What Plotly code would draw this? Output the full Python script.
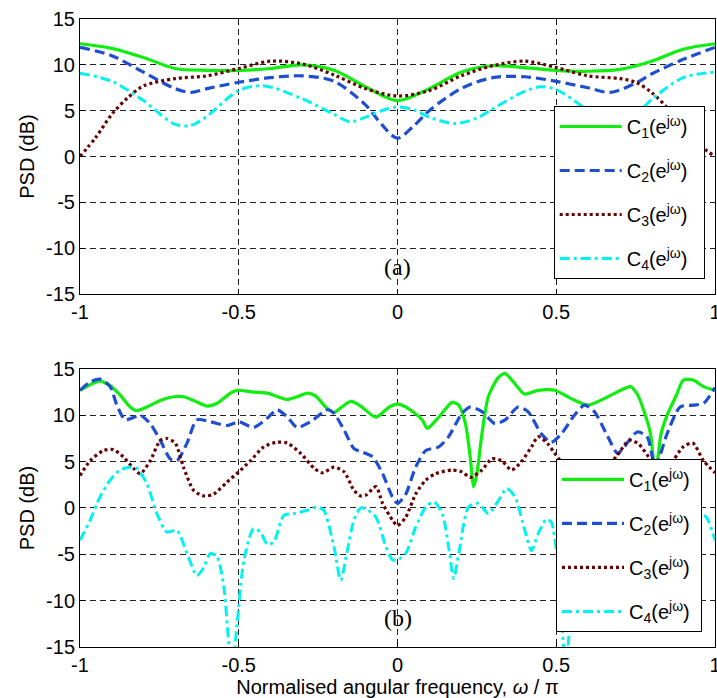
import plotly.graph_objects as go

# ---------------- data: panel (a) ----------------
a_c1_x = [-1, -0.9, -0.8, -0.7, -0.6, -0.5, -0.4, -0.3, -0.2, -0.1, 0, 0.1, 0.2, 0.3, 0.4, 0.5, 0.6, 0.7, 0.8, 0.9, 1.0]
a_c1_y = [12.3, 11.8, 10.8, 9.6, 9.4, 9.4, 9.6, 10.0, 9.4, 7.6, 6.1, 7.4, 9.2, 9.9, 9.7, 9.4, 9.3, 9.5, 10.4, 11.7, 12.3]

a_c2_x = [-1, -0.9, -0.8, -0.7, -0.65, -0.6, -0.5, -0.4, -0.3, -0.2, -0.1, -0.05, 0, 0.05, 0.1, 0.2, 0.3, 0.4, 0.5, 0.6, 0.67, 0.75, 0.8, 0.9, 1.0]
a_c2_y = [11.9, 11.0, 9.2, 7.4, 7.0, 7.4, 8.1, 8.6, 8.8, 8.2, 5.6, 3.5, 2.0, 3.3, 5.0, 7.4, 8.6, 8.7, 8.2, 7.5, 7.0, 8.0, 9.0, 10.6, 11.9]

a_c3_x = [-1, -0.95, -0.9, -0.85, -0.8, -0.7, -0.6, -0.5, -0.4, -0.3, -0.2, -0.1, 0, 0.1, 0.2, 0.3, 0.4, 0.5, 0.6, 0.7, 0.75, 0.8, 0.85, 0.9, 0.95, 1.0]
a_c3_y = [0.0, 2.1, 4.6, 6.4, 7.7, 8.5, 8.8, 9.6, 10.4, 10.1, 8.9, 7.4, 6.6, 7.2, 8.8, 9.9, 10.4, 9.7, 8.8, 8.5, 8.1, 7.0, 5.3, 3.3, 1.3, 0.0]

a_c4_x = [-1, -0.9, -0.8, -0.75, -0.7, -0.65, -0.6, -0.5, -0.42, -0.3, -0.2, -0.15, -0.1, -0.05, 0, 0.05, 0.1, 0.18, 0.25, 0.3, 0.4, 0.45, 0.5, 0.6, 0.65, 0.7, 0.75, 0.8, 0.9, 1.0]
a_c4_y = [9.1, 8.2, 6.1, 4.7, 3.5, 3.4, 4.4, 7.2, 7.7, 6.3, 4.6, 3.8, 4.3, 5.0, 5.4, 5.1, 4.3, 3.6, 4.2, 5.2, 7.1, 7.6, 7.3, 5.0, 3.7, 3.4, 4.5, 6.2, 8.6, 9.2]

# ---------------- data: panel (b) ----------------
b_c1_x = [-1, -0.968, -0.937, -0.905, -0.874, -0.842, -0.821, -0.789, -0.747, -0.705, -0.674, -0.642, -0.6, -0.568,
          -0.526, -0.505, -0.453, -0.41, -0.368, -0.347, -0.316, -0.284, -0.258, -0.226, -0.2, -0.179, -0.147, -0.116,
          -0.068, -0.026, 0, 0.036, 0.078, 0.094, 0.13, 0.172, 0.193, 0.214, 0.229, 0.24, 0.25, 0.266, 0.286, 0.318,
          0.339, 0.37, 0.4, 0.443, 0.495, 0.547, 0.6, 0.651, 0.703, 0.734, 0.755, 0.776, 0.797, 0.812, 0.83, 0.849,
          0.88, 0.9, 0.932, 0.964, 1.0]
b_c1_y = [12.7, 13.3, 13.7, 13.2, 12.2, 10.9, 10.5, 10.9, 11.6, 12.0, 12.0, 11.6, 11.0, 11.3,
          12.4, 12.7, 12.5, 12.4, 11.9, 11.7, 12.0, 12.4, 12.1, 10.9, 10.3, 10.8, 11.5, 11.0,
          9.8, 10.9, 11.2, 10.7, 9.5, 8.6, 9.8, 11.4, 11.1, 9.1, 5.5, 2.3, 3.7, 8.0, 12.0, 14.1,
          14.5, 13.4, 12.3, 12.7, 12.7, 11.8, 11.1, 11.8, 12.7, 13.1, 12.3, 10.5, 8.0, 3.5, 8.0, 10.0,
          12.3, 13.8, 13.8, 13.1, 12.7]

b_c2_x = [-1, -0.968, -0.937, -0.905, -0.884, -0.858, -0.837, -0.81, -0.779, -0.747, -0.716, -0.695, -0.663, -0.632,
          -0.589, -0.537, -0.5, -0.453, -0.41, -0.379, -0.347, -0.316, -0.274, -0.221, -0.2, -0.168, -0.137, -0.116,
          -0.078, -0.047, -0.016, 0, 0.026, 0.057, 0.089, 0.13, 0.161, 0.203, 0.229, 0.266, 0.307, 0.339, 0.38, 0.411,
          0.453, 0.484, 0.516, 0.557, 0.589, 0.62, 0.661, 0.693, 0.714, 0.755, 0.786, 0.812, 0.849, 0.89, 0.932, 0.964, 1.0]
b_c2_y = [12.7, 13.6, 13.9, 13.1, 11.1, 9.5, 9.7, 10.0, 9.1, 7.3, 5.3, 5.1, 7.0, 9.5,
          9.3, 8.9, 9.3, 8.7, 9.7, 10.6, 9.8, 8.7, 9.3, 10.6, 10.2, 8.4, 6.4, 6.1,
          5.5, 3.7, 1.2, 0.5, 1.5, 4.4, 6.2, 6.6, 7.7, 10.2, 10.9, 10.4, 9.1, 9.5, 10.9, 10.4,
          8.0, 7.1, 8.0, 10.0, 11.1, 10.4, 7.8, 5.9, 6.6, 8.2, 7.7, 4.5, 8.0, 10.9, 11.1, 11.3, 13.0]

b_c3_x = [-1, -0.968, -0.926, -0.895, -0.863, -0.832, -0.81, -0.779, -0.747, -0.726, -0.7, -0.674, -0.642, -0.61,
          -0.579, -0.537, -0.5, -0.463, -0.421, -0.379, -0.347, -0.305, -0.263, -0.237, -0.2, -0.168, -0.137, -0.116,
          -0.099, -0.068, -0.047, -0.016, 0, 0.026, 0.057, 0.089, 0.12, 0.172, 0.203, 0.229, 0.266, 0.297, 0.328,
          0.359, 0.39, 0.422, 0.443, 0.474, 0.495, 0.55, 0.6, 0.65, 0.69, 0.73, 0.76, 0.8, 0.85, 0.9, 0.93, 0.964, 1.0]
b_c3_y = [3.5, 5.1, 6.2, 6.3, 5.5, 4.3, 3.7, 5.1, 7.3, 7.5, 7.0, 4.4, 1.9, 1.3,
          1.5, 2.8, 3.9, 5.1, 6.6, 7.1, 7.0, 5.9, 4.3, 3.8, 4.4, 3.9, 1.9, 1.3,
          1.4, 2.3, 0.5, -1.3, -1.9, -1.0, 1.5, 3.0, 3.7, 4.1, 3.9, 3.3, 4.1, 5.3, 5.1,
          4.1, 5.0, 6.6, 7.7, 6.9, 5.9, 3.5, 2.0, 4.0, 5.6, 7.3, 6.9, 5.2, 4.5, 6.6, 7.0, 5.1, 3.8]

b_c4_x = [-1, -0.968, -0.937, -0.905, -0.874, -0.842, -0.821, -0.789, -0.758, -0.726, -0.695, -0.663, -0.632, -0.61,
          -0.589, -0.568, -0.547, -0.532, -0.52, -0.505, -0.484, -0.453, -0.432, -0.41, -0.39, -0.358, -0.326, -0.284,
          -0.253, -0.232, -0.2, -0.179, -0.158, -0.137, -0.116, -0.099, -0.068, -0.036, -0.016, 0, 0.026, 0.057, 0.089,
          0.115, 0.141, 0.161, 0.177, 0.193, 0.224, 0.255, 0.286, 0.318, 0.344, 0.37, 0.401, 0.422, 0.443, 0.469,
          0.484, 0.505, 0.53, 0.56, 0.6, 0.65, 0.7, 0.75, 0.8, 0.85, 0.9, 0.95, 0.975, 1.0]
b_c4_y = [-3.5, -1.3, 1.2, 3.0, 4.1, 4.4, 4.3, 2.6, -0.6, -2.6, -2.4, -4.9, -7.3, -6.4,
          -4.9, -5.3, -8.5, -14.3, -17.0, -12.5, -5.7, -2.2, -2.6, -3.9, -3.7, -0.8, -0.6, -0.25,
          0.1, -0.25, -4.2, -7.8, -4.6, -1.3, 0.0, -0.1, -1.0, -4.2, -5.6, -5.6, -4.9, -2.1, 0.1,
          0.65, -0.6, -4.2, -7.6, -4.9, 0.1, 0.5, -0.6, 0.8, 2.1, 1.2, -2.4, -4.6, -2.8, -1.2,
          -1.5, -6.0, -17.0, -6.0, -1.5, -0.5, -3.5, -7.0, -2.5, 0.5, 1.2, -0.3, -1.1, -3.5]

NBSP = "\u00a0"
base_names = ["C<sub>1</sub>(e<sup>jω</sup>)", "C<sub>2</sub>(e<sup>jω</sup>)",
              "C<sub>3</sub>(e<sup>jω</sup>)", "C<sub>4</sub>(e<sup>jω</sup>)"]
names_a = [n + NBSP * 2 for n in base_names]
names_b = [n + NBSP for n in base_names]
x_ticks = [-1, -0.5, 0, 0.5, 1]
x_ticktext = ["-1", "-0.5", "0", "0.5", "1"]
y_ticks = [-15, -10, -5, 0, 5, 10, 15]
y_ticktext = ["-15", "-10", "-5", "0", "5", "10", "15"]

colors = ["#10EE10", "#1F4FD0", "#6A0000", "#00F2F2"]
dashes = ["solid", "10px,5px", "3px,3px", "10px,4px,3px,4px"]
widths = [3.2, 3.2, 3.2, 3.0]

SANS = "Liberation Sans, Arial, sans-serif"
SERIF = "Liberation Serif, Times New Roman, serif"

fig = go.Figure()

panel_a = [(a_c1_x, a_c1_y), (a_c2_x, a_c2_y), (a_c3_x, a_c3_y), (a_c4_x, a_c4_y)]
panel_b = [(b_c1_x, b_c1_y), (b_c2_x, b_c2_y), (b_c3_x, b_c3_y), (b_c4_x, b_c4_y)]

for i, (xs, ys) in enumerate(panel_a):
    fig.add_trace(go.Scatter(x=xs, y=ys, mode="lines", name=names_a[i],
                             line=dict(color=colors[i], dash=dashes[i], width=widths[i],
                                       shape="spline", smoothing=0.9),
                             xaxis="x", yaxis="y", legend="legend", legendgroup="a%d" % i))
for i, (xs, ys) in enumerate(panel_b):
    fig.add_trace(go.Scatter(x=xs, y=ys, mode="lines", name=names_b[i],
                             line=dict(color=colors[i], dash=dashes[i], width=widths[i],
                                       shape="spline", smoothing=0.7),
                             xaxis="x2", yaxis="y2", legend="legend2", legendgroup="b%d" % i))

tickfont = dict(family=SANS, size=20, color="black")
common = dict(showline=True, linecolor="black", linewidth=1, mirror=True,
              showgrid=True, gridcolor="#222222", griddash="6px,4px", gridwidth=1,
              ticks="inside", ticklen=5, tickcolor="black", zeroline=False,
              tickfont=tickfont, ticklabeloverflow="allow", automargin=False)

legend_common = dict(bgcolor="white", bordercolor="black", borderwidth=1,
                     font=dict(family=SANS, size=20, color="black"),
                     itemwidth=62, tracegroupgap=15, xanchor="left", yanchor="top")

title_font = dict(family=SANS, size=20, color="black")

fig.update_layout(
    width=717, height=698,
    margin=dict(l=80, r=2, t=19, b=51),
    paper_bgcolor="white", plot_bgcolor="white",
    showlegend=True,
    xaxis=dict(domain=[0, 1], range=[-1, 1], tickvals=x_ticks, ticktext=x_ticktext,
               anchor="y", **common),
    yaxis=dict(domain=[0.562, 1], range=[-15, 15], tickvals=y_ticks, ticktext=y_ticktext,
               anchor="x", title=dict(text="PSD (dB)", font=title_font, standoff=6),
               **common),
    xaxis2=dict(domain=[0, 1], range=[-1, 1], tickvals=x_ticks, ticktext=x_ticktext,
                anchor="y2", title=dict(text="Normalised angular frequency, <i>ω</i> / π",
                                        font=title_font, standoff=2),
                **common),
    yaxis2=dict(domain=[0, 0.4427], range=[-15, 15], tickvals=y_ticks, ticktext=y_ticktext,
                anchor="x2", title=dict(text="PSD (dB)", font=title_font, standoff=6),
                **common),
    legend=dict(x=0.746, y=0.8615, **legend_common),
    legend2=dict(x=0.7496, y=0.2995, **legend_common),
)

fig.add_annotation(x=0, y=-12.1, xref="x", yref="y", text="(a)", showarrow=False,
                   font=dict(family=SERIF, size=24, color="black"))
fig.add_annotation(x=0, y=-11.9, xref="x2", yref="y2", text="(b)", showarrow=False,
                   font=dict(family=SERIF, size=24, color="black"))

fig.write_html("out.html")
